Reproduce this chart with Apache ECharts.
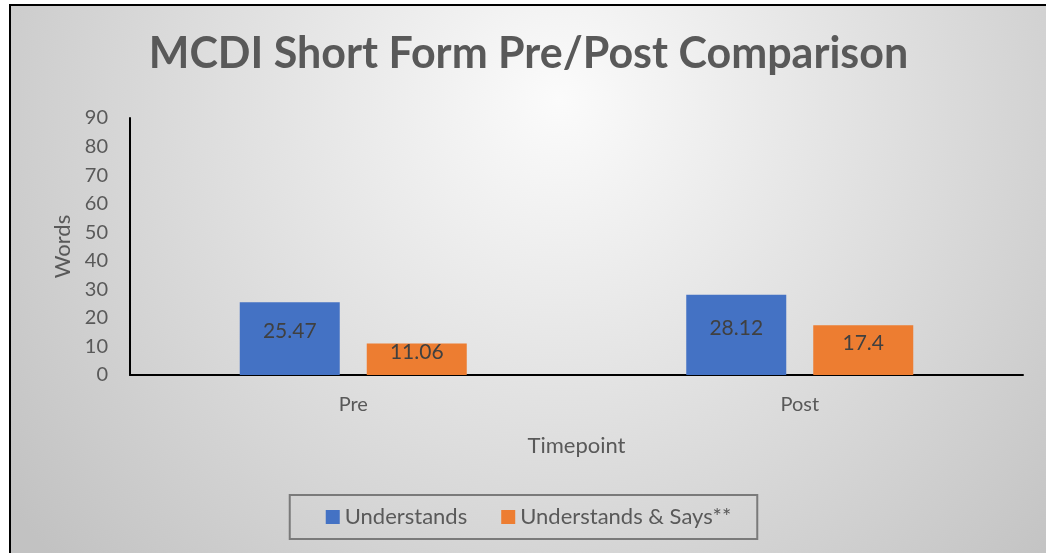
<!DOCTYPE html>
<html>
<head>
<meta charset="utf-8">
<script src="https://cdn.jsdelivr.net/npm/echarts@6/dist/echarts.min.js"></script>
<style>
  html, body { margin: 0; padding: 0; background: #fff; overflow: hidden; }
  #frame {
    position: absolute; left: 9px; top: 4px;
    border-left: 2px solid #000; border-top: 2px solid #000;
  }
  #main { width: 1035px; height: 547px; }
</style>
</head>
<body>
<div id="frame"><div id="main"></div></div>
<script>
var timepoints = ['Pre', 'Post'];
var understands = [25.47, 28.12];
var understandsSays = [11.06, 17.4];

var textGrey = '#595959';
var fontName = 'Lato';

var myChart = echarts.init(document.getElementById('main'));

var option = {
    backgroundColor: {
        type: 'radial', x: 0.53, y: 0.17, r: 1.25,
        colorStops: [
            { offset: 0, color: '#fbfbfb' },
            { offset: 1, color: '#c2c2c2' }
        ]
    },
    textStyle: { fontFamily: fontName },
    title: {
        text: 'MCDI Short Form Pre/Post Comparison',
        left: 'center',
        top: 22,
        textStyle: { fontSize: 43, fontWeight: 'bold', color: textGrey, fontFamily: fontName }
    },
    legend: {
        bottom: 14,
        left: 'center',
        padding: [11, 26, 11, 36],
        borderColor: '#7a7a7a',
        borderWidth: 2,
        itemWidth: 14,
        itemHeight: 14,
        itemGap: 34,
        icon: 'rect',
        textStyle: { fontSize: 22, color: textGrey, fontFamily: fontName },
        data: ['Understands', 'Understands & Says**']
    },
    grid: { left: 119, top: 112, width: 893, height: 257 },
    xAxis: {
        type: 'category',
        data: timepoints,
        name: 'Timepoint',
        nameLocation: 'middle',
        nameGap: 60,
        nameTextStyle: { fontSize: 22, color: textGrey },
        axisLine: { lineStyle: { color: '#000', width: 2 } },
        axisTick: { show: false },
        axisLabel: { fontSize: 20, color: textGrey, margin: 20 }
    },
    yAxis: {
        type: 'value',
        min: 0, max: 90, interval: 10,
        name: 'Words',
        nameLocation: 'middle',
        nameGap: 56,
        nameTextStyle: { fontSize: 22, color: textGrey },
        axisLine: { show: true, lineStyle: { color: '#000', width: 2 } },
        axisTick: { show: false },
        splitLine: { show: false },
        axisLabel: { fontSize: 20, color: textGrey, margin: 22 }
    },
    series: [
        {
            name: 'Understands',
            type: 'bar',
            barWidth: 100,
            barGap: '27%',
            itemStyle: { color: '#4472C4' },
            label: { show: true, position: 'inside', offset: [0, -7], fontSize: 21, color: '#404040' },
            data: understands
        },
        {
            name: 'Understands & Says**',
            type: 'bar',
            barWidth: 100,
            itemStyle: { color: '#ED7D31' },
            label: { show: true, position: 'inside', offset: [0, -7], fontSize: 21, color: '#404040' },
            data: understandsSays
        }
    ]
};

myChart.setOption(option);
</script>
</body>
</html>
